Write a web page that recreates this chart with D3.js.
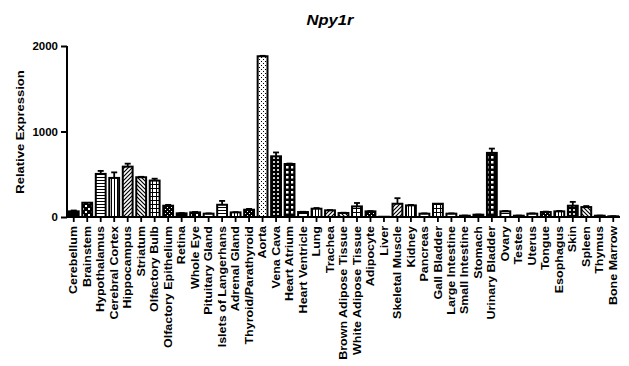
<!DOCTYPE html>
<html>
<head>
<meta charset="utf-8">
<script src="https://cdn.jsdelivr.net/npm/d3@7"></script>
<style>
html,body{margin:0;padding:0;background:#fff;}
svg{display:block;}
text{font-family:"Liberation Sans",Arial,sans-serif;font-weight:bold;fill:#000;}
</style>
</head>
<body>
<div id="chart"></div>
<script>
const title = "Npy1r";
const yLabel = "Relative Expression";
const categories = ["Cerebellum","Brainstem","Hypothalamus","Cerebral Cortex","Hippocampus","Striatum","Olfactory Bulb","Olfactory Epithelium","Retina","Whole Eye","Pituitary Gland","Islets of Langerhans","Adrenal Gland","Thyroid/Parathyroid","Aorta","Vena Cava","Heart Atrium","Heart Ventricle","Lung","Trachea","Brown Adipose Tissue","White Adipose Tissue","Adipocyte","Liver","Skeletal Muscle","Kidney","Pancreas","Gall Bladder","Large Intestine","Small Intestine","Stomach","Urinary Bladder","Ovary","Testes","Uterus","Tongue","Esophagus","Skin","Spleen","Thymus","Bone Marrow"];
const means = [66,167,504,457,589,465,426,132,43,54,39,143,54,85,1880,710,620,58,97,78,47,124,66,3,155,136,39,155,39,15,27,750,66,15,39,58,66,132,116,15,8];
const errors = [10,0,35,65,35,5,22,10,3,5,3,45,3,10,5,45,5,3,8,3,3,40,3,0,65,5,3,0,3,2,2,50,5,2,3,5,5,45,12,2,1];
const yTicks = [0,1000,2000];
const barPatterns = ["solid","checkBig","hlines","vlines","diag1","diag2","grid","dotsBlack","solid","checkBig","hlines","hlines","vlines","dotsBlack","dotsWhite","circlesBlack","checkMed","hlines","vlines","diag1","diag2","grid","dotsBlack","solid","diag1","vlines","hlines","grid","hlines","solid","solid","checkMed","hlines","solid","hlines","dotsBlack","vlines","circlesBlack","diag2","solid","solid"];

const W = 629, H = 366;
const svg = d3.select("#chart").append("svg").attr("width", W).attr("height", H);
const defs = svg.append("defs");

function pat(id, w, h, bg, draw) {
  const p = defs.append("pattern").attr("id", id).attr("patternUnits", "userSpaceOnUse").attr("width", w).attr("height", h);
  p.append("rect").attr("width", w).attr("height", h).attr("fill", bg);
  draw(p);
}
pat("solid", 4, 4, "#000", p => {});
pat("checkBig", 6, 6, "#000", p => { p.append("rect").attr("x",1).attr("y",1).attr("width",2).attr("height",2).attr("fill","#fff"); p.append("rect").attr("x",4).attr("y",4).attr("width",2).attr("height",2).attr("fill","#fff"); });
pat("hlines", 4, 3, "#fff", p => { p.append("rect").attr("x",0).attr("y",0).attr("width",4).attr("height",1).attr("fill","#000"); });
pat("vlines", 3, 4, "#fff", p => { p.append("rect").attr("x",0).attr("y",0).attr("width",1).attr("height",4).attr("fill","#000"); });
pat("diag1", 4, 4, "#fff", p => { p.append("path").attr("d","M-1,1 L1,-1 M0,4 L4,0 M3,5 L5,3").attr("stroke","#000").attr("stroke-width",1.2); });
pat("diag2", 4, 4, "#fff", p => { p.append("path").attr("d","M-1,3 L1,5 M0,0 L4,4 M3,-1 L5,1").attr("stroke","#000").attr("stroke-width",1.2); });
pat("grid", 4, 4, "#fff", p => { p.append("rect").attr("x",0).attr("y",0).attr("width",4).attr("height",1).attr("fill","#000"); p.append("rect").attr("x",0).attr("y",0).attr("width",1).attr("height",4).attr("fill","#000"); });
pat("dotsBlack", 4, 4, "#000", p => { p.append("rect").attr("x",1).attr("y",1).attr("width",1).attr("height",1).attr("fill","#fff"); p.append("rect").attr("x",3).attr("y",3).attr("width",1).attr("height",1).attr("fill","#fff"); });
pat("dotsWhite", 4, 4, "#fff", p => { p.append("rect").attr("x",1).attr("y",1).attr("width",1).attr("height",1).attr("fill","#000"); p.append("rect").attr("x",3).attr("y",3).attr("width",1).attr("height",1).attr("fill","#000"); });
pat("circlesBlack", 4, 4, "#000", p => { p.append("circle").attr("cx",2).attr("cy",2).attr("r",1.1).attr("fill","#fff"); });
pat("checkMed", 5, 5, "#000", p => { p.append("rect").attr("x",1).attr("y",1).attr("width",2.5).attr("height",2.5).attr("fill","#fff"); });

const x0 = 67, x1 = 620, yBase = 217, yTop = 46;
const x = d3.scaleBand().domain(categories).range([x0, x1]).paddingInner(0.27).paddingOuter(0.135);
const y = d3.scaleLinear().domain([0, 2000]).range([yBase, yTop]);

// title
svg.append("text").attr("transform", `translate(330,25) scale(1.18,1)`).attr("text-anchor","middle")
  .style("font-size","14px").style("font-style","italic").text(title);

// y label
svg.append("text").attr("transform", `translate(24,132) rotate(-90) scale(1.3,1)`).attr("text-anchor","middle")
  .style("font-size","10px").text(yLabel);

const data = categories.map((c, i) => ({c, m: means[i], e: errors[i], p: barPatterns[i]}));

// bars
svg.append("g").selectAll("rect").data(data).join("rect")
  .attr("x", d => x(d.c)).attr("width", x.bandwidth())
  .attr("y", d => y(d.m)).attr("height", d => yBase - y(d.m))
  .attr("fill", d => `url(#${d.p})`).attr("stroke", "#000").attr("stroke-width", 2);

// error bars
const eg = svg.append("g").attr("stroke", "#000").attr("stroke-width", 1.8);
data.filter(d => d.e > 0).forEach(d => {
  const cx = x(d.c) + x.bandwidth() / 2;
  eg.append("line").attr("x1", cx).attr("x2", cx).attr("y1", y(d.m)).attr("y2", y(d.m + d.e));
  eg.append("line").attr("x1", cx - 3).attr("x2", cx + 3).attr("y1", y(d.m + d.e)).attr("y2", y(d.m + d.e));
});

// y axis
const yAxis = svg.append("g").attr("transform", `translate(${x0},0)`)
  .call(d3.axisLeft(y).tickValues(yTicks).tickSize(6).tickFormat(d3.format("d")));
yAxis.select(".domain").attr("stroke","#000").attr("stroke-width",2).attr("d", `M0,${yTop}V${yBase + 1}`);
yAxis.selectAll(".tick line").attr("stroke","#000").attr("stroke-width",2);
yAxis.selectAll(".tick text").attr("x", null).attr("dy", null)
  .attr("transform", "translate(-9,3.5) scale(1.15,1)").attr("text-anchor","end")
  .style("font-size","10px").style("font-family",'"Liberation Sans",Arial,sans-serif').style("font-weight","bold");

// x axis
const xAxis = svg.append("g").attr("transform", `translate(0,${yBase})`)
  .call(d3.axisBottom(x).tickSize(5).tickSizeOuter(0));
xAxis.select(".domain").attr("stroke","#000").attr("stroke-width",2).attr("d", `M${x0 - 1},0H${x1}`);
xAxis.selectAll(".tick line").attr("stroke","#000").attr("stroke-width",1.8);
xAxis.selectAll(".tick text").attr("y", null).attr("dy", null)
  .attr("transform", "translate(3.6,9) rotate(-90) scale(1.25,1)").attr("text-anchor","end")
  .style("font-size","10px").style("font-family",'"Liberation Sans",Arial,sans-serif').style("font-weight","bold");
</script>
</body>
</html>
